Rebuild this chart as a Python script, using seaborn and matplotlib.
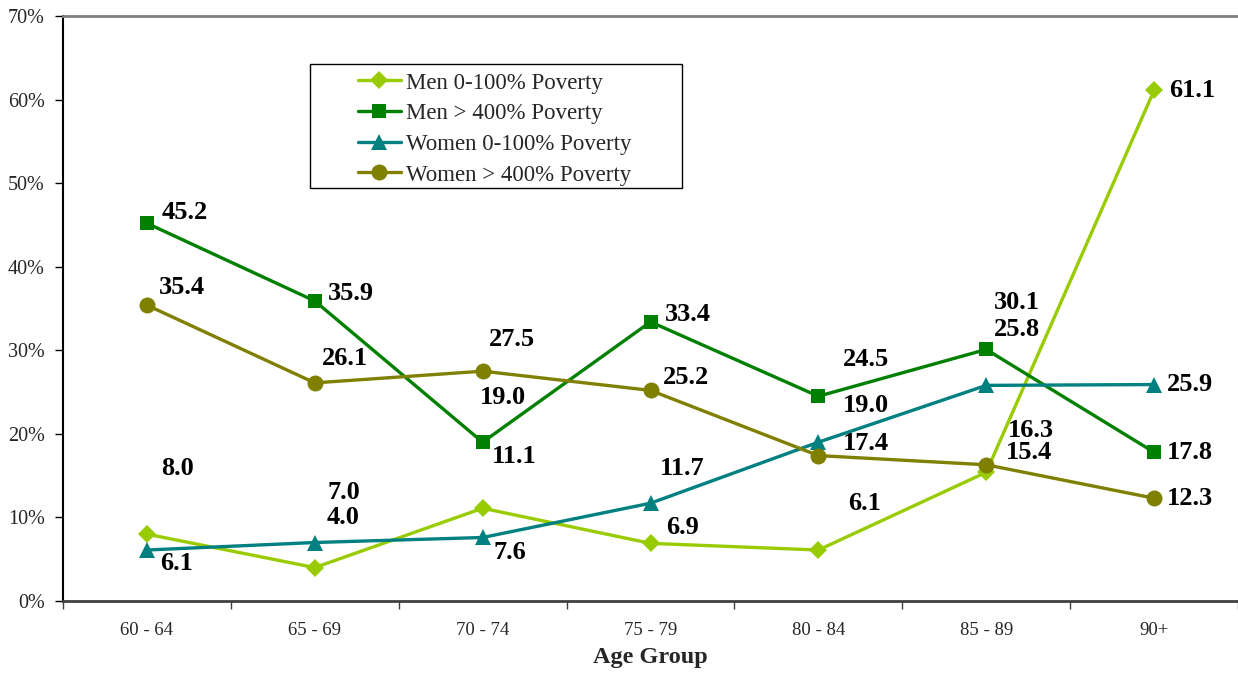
import numpy as np
import pandas as pd
import matplotlib
matplotlib.use("Agg")
import matplotlib.pyplot as plt
from matplotlib.patches import Rectangle
import seaborn as sns

# ---------------- data ----------------
categories = ["60 - 64", "65 - 69", "70 - 74", "75 - 79", "80 - 84", "85 - 89", "90+"]
men_pov_0_100 = [8.0, 4.0, 11.1, 6.9, 6.1, 15.4, 61.1]
men_pov_400 = [45.2, 35.9, 19.0, 33.4, 24.5, 30.1, 17.8]
women_pov_0_100 = [6.1, 7.0, 7.6, 11.7, 19.0, 25.8, 25.9]
women_pov_400 = [35.4, 26.1, 27.5, 25.2, 17.4, 16.3, 12.3]
series_names = ["Men 0-100% Poverty", "Men > 400% Poverty",
                "Women 0-100% Poverty", "Women > 400% Poverty"]
y_ticks = [0, 10, 20, 30, 40, 50, 60, 70]
x_label = "Age Group"

# ---------------- styling ----------------
colors = ["#99CC00", "#008000", "#008080", "#808000"]
markers = ["D", "s", "^", "o"]
msizes = [9, 10, 11, 11.5]
# label offsets in pixels (dx, dy) relative to each point
offsets = [
    [(31, 66), (28, 50), (32, 52), (32, 16), (46, 47), (43, 20), (38, 0)],
    [(38, 11), (36, 7), (20, 45), (37, 7), (48, 37), (31, 47), (36, 0)],
    [(30, -13), (29, 50), (27, -15), (32, 35), (48, 37), (31, 56), (36, 0)],
    [(35, 18), (30, 24), (29, 32), (36, 13), (48, 12), (45, 34), (36, 0)],
]

sns.set_style("white")
plt.rcParams["font.family"] = ["Liberation Serif", "DejaVu Serif"]

W, H = 1238, 674
fig = plt.figure(figsize=(W / 100, H / 100), dpi=100)
ax = fig.add_axes([63 / W, 1 - 601 / H, 1175 / W, 585 / H])

xpos = np.arange(len(categories))
all_series = [men_pov_0_100, men_pov_400, women_pov_0_100, women_pov_400]

for i, (name, vals) in enumerate(zip(series_names, all_series)):
    df = pd.DataFrame({"x": xpos, "y": vals})
    sns.lineplot(data=df, x="x", y="y", ax=ax, color=colors[i], marker=markers[i],
                 markersize=msizes[i], markeredgecolor=colors[i], markeredgewidth=0,
                 linewidth=2.4, label=name, zorder=3 + i)
    for j, v in enumerate(vals):
        ax.annotate(f"{v:.1f}", (xpos[j], v), xytext=offsets[i][j],
                    textcoords="offset pixels", ha="center", va="center",
                    fontsize=19, fontweight="bold", color="black", zorder=10)

ax.set_xlim(-0.5, len(categories) - 0.5)
ax.set_ylim(0, 70)
ax.set_yticks(y_ticks)
ax.set_yticklabels([f"{t}%" for t in y_ticks], fontsize=14.5)
ax.set_xticks(xpos)
ax.set_xticklabels(categories, fontsize=13.5)
ax.set_xticks(np.arange(len(categories) + 1) - 0.5, minor=True)
ax.tick_params(axis="x", which="major", length=0, pad=15)
ax.tick_params(axis="x", which="minor", length=6, width=1, color="#404040", direction="out", bottom=True)
ax.tick_params(axis="y", which="major", length=6, width=1, color="black", direction="out", pad=7, left=True)
ax.set_ylabel("")
ax.set_xlabel(x_label, fontsize=17.5, fontweight="bold")
ax.xaxis.set_label_coords(0.5, -0.078)

ax.spines["left"].set_color("black")
ax.spines["left"].set_linewidth(1.5)
ax.spines["bottom"].set_color("#404040")
ax.spines["bottom"].set_linewidth(2)
ax.spines["top"].set_color("#808080")
ax.spines["top"].set_linewidth(2)
ax.spines["right"].set_visible(False)
ax.grid(False)

# legend box
lx0, lx1 = (310 - 63) / 1175, (682 - 63) / 1175
ly0, ly1 = (601 - 188) / 585, (601 - 64) / 585
ax.add_patch(Rectangle((lx0, ly0), lx1 - lx0, ly1 - ly0, transform=ax.transAxes,
                       facecolor="white", edgecolor="black", linewidth=1, zorder=20))
leg = ax.legend(loc="center", bbox_to_anchor=((lx0 + lx1) / 2 - 1 / 1175,
                                              (ly0 + ly1) / 2 - 3 / 585),
                frameon=False, fontsize=16.5, handlelength=1.85, handletextpad=0.25,
                labelspacing=0.42, borderpad=0)
leg.set_zorder(21)

fig.savefig("out.png", dpi=100)
